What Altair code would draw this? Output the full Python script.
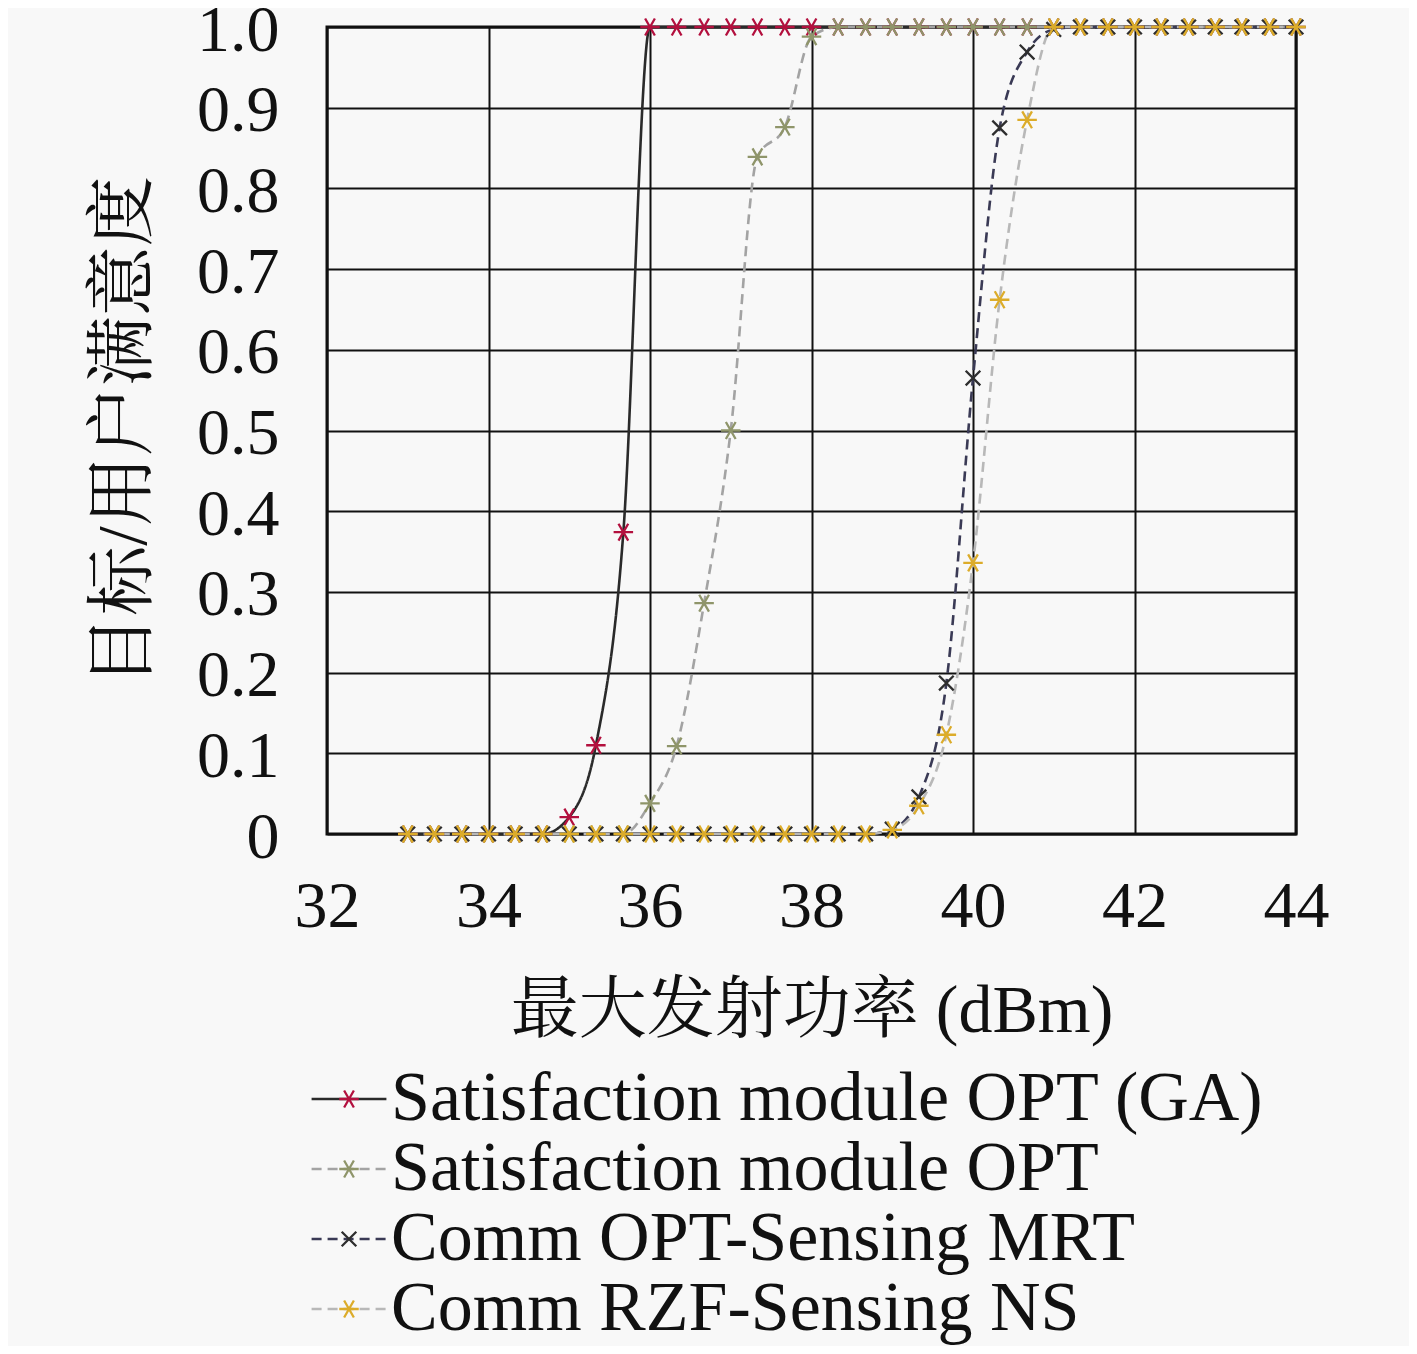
import altair as alt
import pandas as pd

# x positions of the samples (dBm)
x_vals = [33, 33.33, 33.67, 34, 34.33, 34.67, 35, 35.33, 35.67, 36,
          36.33, 36.67, 37, 37.33, 37.67, 38, 38.33, 38.67, 39, 39.33,
          39.67, 40, 40.33, 40.67, 41, 41.33, 41.67, 42, 42.33, 42.67,
          43, 43.33, 43.67, 44]

ga = [0, 0, 0, 0, 0, 0, 0.021, 0.11, 0.374, 1,
      1, 1, 1, 1, 1, 1, 1, 1, 1, 1,
      1, 1, 1, 1, 1, 1, 1, 1, 1, 1,
      1, 1, 1, 1]
opt = [0, 0, 0, 0, 0, 0, 0, 0, 0, 0.038,
       0.109, 0.286, 0.50, 0.839, 0.876, 0.988, 1, 1, 1, 1,
       1, 1, 1, 1, 1, 1, 1, 1, 1, 1,
       1, 1, 1, 1]
mrt = [0, 0, 0, 0, 0, 0, 0, 0, 0, 0,
       0, 0, 0, 0, 0, 0, 0, 0, 0.006, 0.046,
       0.187, 0.565, 0.875, 0.969, 0.997, 1, 1, 1, 1, 1,
       1, 1, 1, 1]
ns = [0, 0, 0, 0, 0, 0, 0, 0, 0, 0,
      0, 0, 0, 0, 0, 0, 0, 0, 0.005, 0.035,
      0.123, 0.336, 0.662, 0.885, 1.0, 1, 1, 1, 1, 1,
      1, 1, 1, 1]

names = ["Satisfaction module OPT (GA)", "Satisfaction module OPT",
         "Comm OPT-Sensing MRT", "Comm RZF-Sensing NS"]
marker_keys = ["m1", "m2", "m3", "m4"]

x_ticks = [32, 34, 36, 38, 40, 42, 44]
y_ticks = [0, 0.1, 0.2, 0.3, 0.4, 0.5, 0.6, 0.7, 0.8, 0.9, 1.0]

line_colors = ["#2a2a2a", "#a3a3a3", "#3a3a55", "#b8b8b8"]
marker_colors = ["#b3103e", "#8f956a", "#2e2e2e", "#dcac2a"]
dashes = [[1, 0], [10, 6], [10, 6], [10, 6]]
ASTER = "M-1,0L1,0M-0.5,-0.87L0.5,0.87M-0.5,0.87L0.5,-0.87"
XMARK = "M-0.75,-0.75L0.75,0.75M-0.75,0.75L0.75,-0.75"
LEGLINE = "M-4,0L4,0"
shapes = [ASTER, ASTER, XMARK, ASTER]

rows = []
for name, mk, vals in zip(names, marker_keys, [ga, opt, mrt, ns]):
    for xv, yv in zip(x_vals, vals):
        rows.append({"x": xv, "y": yv, "series": name, "marker": mk})
df = pd.DataFrame(rows)

FONT = "Liberation Serif, Noto Serif CJK SC, Noto Sans CJK SC"

x_enc = alt.X("x:Q",
              scale=alt.Scale(domain=[32, 44], nice=False, zero=False),
              axis=alt.Axis(values=x_ticks, title="最大发射功率 (dBm)",
                            labelFontSize=66, titleFontSize=68,
                            labelPadding=40, titlePadding=38,
                            labelFlush=False, labelOverlap=False))
y_enc = alt.Y("y:Q",
              scale=alt.Scale(domain=[0, 1], nice=False),
              axis=alt.Axis(values=y_ticks, title="目标/用户满意度",
                            labelExpr="datum.value == 0 ? '0' : format(datum.value, '.1f')",
                            labelFontSize=66, titleFontSize=70,
                            labelPadding=48, titlePadding=36, labelOffset=3,
                            labelFlush=False, labelOverlap=False))

legA = alt.Legend(orient="none", legendX=-13, legendY=1037, title=None,
                  labelFont=FONT, labelFontSize=70, labelColor="#111111",
                  symbolType=LEGLINE, symbolSize=350, symbolStrokeWidth=2.4,
                  labelOffset=7, rowPadding=0, padding=0, labelLimit=3000)
legB = alt.Legend(orient="none", legendX=-13, legendY=1037, title=None,
                  labelFont=FONT, labelFontSize=70, labelOpacity=0,
                  labelExpr="' '",
                  symbolSize=380, symbolStrokeWidth=2.3,
                  labelOffset=7, rowPadding=0, padding=0)

lines = alt.Chart(df).mark_line(interpolate="monotone", strokeWidth=2.6).encode(
    x=x_enc, y=y_enc,
    color=alt.Color("series:N", scale=alt.Scale(domain=names, range=line_colors), legend=legA),
    strokeDash=alt.StrokeDash("series:N", scale=alt.Scale(domain=names, range=dashes), legend=legA),
)

points = alt.Chart(df).mark_point(filled=False, size=380, strokeWidth=2.3, opacity=1).encode(
    x=x_enc, y=y_enc,
    stroke=alt.Stroke("marker:N", scale=alt.Scale(domain=marker_keys, range=marker_colors), legend=legB),
    shape=alt.Shape("marker:N", scale=alt.Scale(domain=marker_keys, range=shapes), legend=legB),
)

chart = alt.layer(lines, points).properties(
    width=969, height=807,
    autosize=alt.AutoSizeParams(type="none"),
    padding={"left": 319, "top": 19, "right": 113, "bottom": 512},
    background="#f8f8f8",
).configure_view(
    stroke="#111111", strokeWidth=3, fill="#f8f8f8"
).configure_axis(
    labelFont=FONT, titleFont=FONT, labelColor="#111111", titleColor="#111111",
    titleFontWeight="normal", grid=True, gridColor="#111111", gridWidth=2,
    gridOpacity=1, domain=False, ticks=False, tickSize=0,
)

chart.save("out.html", embed_options={"renderer": "svg", "actions": False})
